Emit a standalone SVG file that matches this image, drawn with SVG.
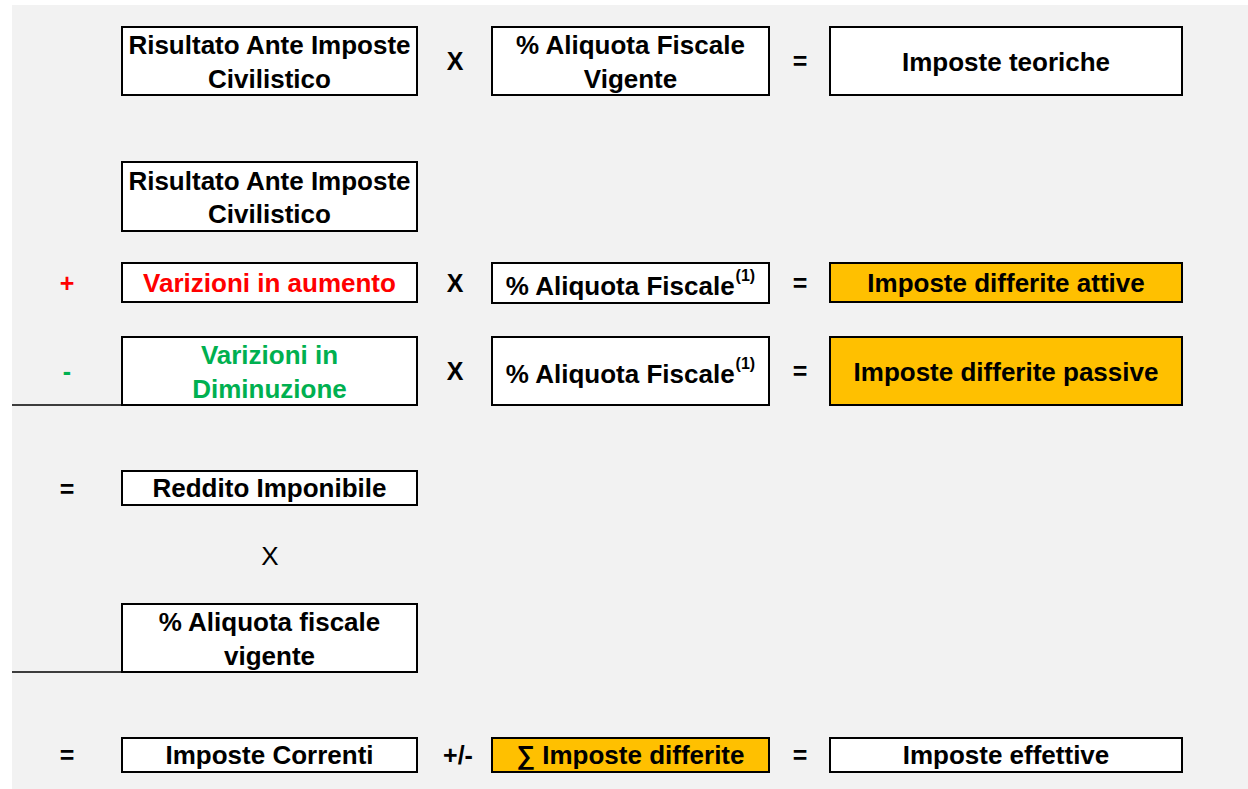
<svg xmlns="http://www.w3.org/2000/svg" width="1248" height="789" viewBox="0 0 1248 789">
<style>
.box{fill:#fff;stroke:#000;stroke-width:2}
.org{fill:#FFC000;stroke:#000;stroke-width:2}
.t{font-family:"Liberation Sans",Arial,sans-serif;font-size:26px;font-weight:bold;fill:#000;text-anchor:middle}
.op{font-family:"Liberation Sans",Arial,sans-serif;font-size:25px;font-weight:bold;fill:#000;text-anchor:middle}
.sup{font-size:16px}
.red{fill:#FF0000}
.grn{fill:#00B050}
.rule{stroke:#000;stroke-width:1.5}
</style>
<rect x="0" y="0" width="1248" height="789" fill="#fff"/>
<rect x="12" y="5" width="1236" height="784" fill="#F2F2F2"/>

<g id="r1-risultato"><rect class="box" x="122" y="27" width="295" height="68"/>
<text class="t" x="269.5" y="54">Risultato Ante Imposte</text><text class="t" x="269.5" y="88">Civilistico</text></g>
<g id="r1-aliquota"><rect class="box" x="492" y="27" width="277" height="68"/>
<text class="t" x="630.5" y="54">% Aliquota Fiscale</text><text class="t" x="630.5" y="88">Vigente</text></g>
<g id="r1-teoriche"><rect class="box" x="830" y="27" width="352" height="68"/>
<text class="t" x="1006" y="71">Imposte teoriche</text></g>

<g id="r2-risultato"><rect class="box" x="122" y="162" width="295" height="69"/>
<text class="t" x="269.5" y="190">Risultato Ante Imposte</text><text class="t" x="269.5" y="223">Civilistico</text></g>

<g id="r3-aumento"><rect class="box" x="122" y="263" width="295" height="39"/>
<text class="t red" x="269.5" y="292">Varizioni in aumento</text></g>
<g id="r3-aliquota"><rect class="box" x="492" y="263" width="277" height="40"/>
<text class="t" x="630.5" y="295">% Aliquota Fiscale<tspan class="sup" dx="1" dy="-14">(1)</tspan></text></g>
<g id="r3-attive"><rect class="org" x="830" y="263" width="352" height="39"/>
<text class="t" x="1006" y="292">Imposte differite attive</text></g>

<g id="r4-diminuzione"><rect class="box" x="122" y="337" width="295" height="68"/>
<text class="t grn" x="269.5" y="364">Varizioni in</text><text class="t grn" x="269.5" y="398">Diminuzione</text></g>
<g id="r4-aliquota"><rect class="box" x="492" y="337" width="277" height="68"/>
<text class="t" x="630.5" y="383">% Aliquota Fiscale<tspan class="sup" dx="1" dy="-14">(1)</tspan></text></g>
<g id="r4-passive"><rect class="org" x="830" y="337" width="352" height="68"/>
<text class="t" x="1006" y="381">Imposte differite passive</text></g>

<g id="r5-reddito"><rect class="box" x="122" y="471" width="295" height="34"/>
<text class="t" x="269.5" y="497">Reddito Imponibile</text></g>

<g id="r6-aliquota"><rect class="box" x="122" y="604" width="295" height="68"/>
<text class="t" x="269.5" y="631">% Aliquota fiscale</text><text class="t" x="269.5" y="665">vigente</text></g>

<g id="r7-correnti"><rect class="box" x="122" y="738" width="295" height="34"/>
<text class="t" x="269.5" y="764">Imposte Correnti</text></g>
<g id="r7-differite"><rect class="org" x="492" y="738" width="277" height="34"/>
<text class="t" x="630.5" y="764">∑ Imposte differite</text></g>
<g id="r7-effettive"><rect class="box" x="830" y="738" width="352" height="34"/>
<text class="t" x="1006" y="764">Imposte effettive</text></g>

<g id="connectors">
<line class="rule" x1="12" y1="405" x2="122" y2="405"/>
<line class="rule" x1="12" y1="672" x2="122" y2="672"/>
</g>

<g id="operators">
<text class="op" x="455" y="70">X</text>
<text class="op" x="800" y="70">=</text>
<text class="op red" x="67" y="292">+</text>
<text class="op" x="455" y="292">X</text>
<text class="op" x="800" y="292">=</text>
<text class="op grn" x="67" y="380">-</text>
<text class="op" x="455" y="380">X</text>
<text class="op" x="800" y="380">=</text>
<text class="op" x="67" y="498">=</text>
<text x="270" y="565" font-family="Liberation Sans,Arial,sans-serif" font-size="26" text-anchor="middle" fill="#000">X</text>
<text class="op" x="67" y="764">=</text>
<text class="op" x="458" y="764">+/-</text>
<text class="op" x="800" y="764">=</text>
</g>
</svg>
